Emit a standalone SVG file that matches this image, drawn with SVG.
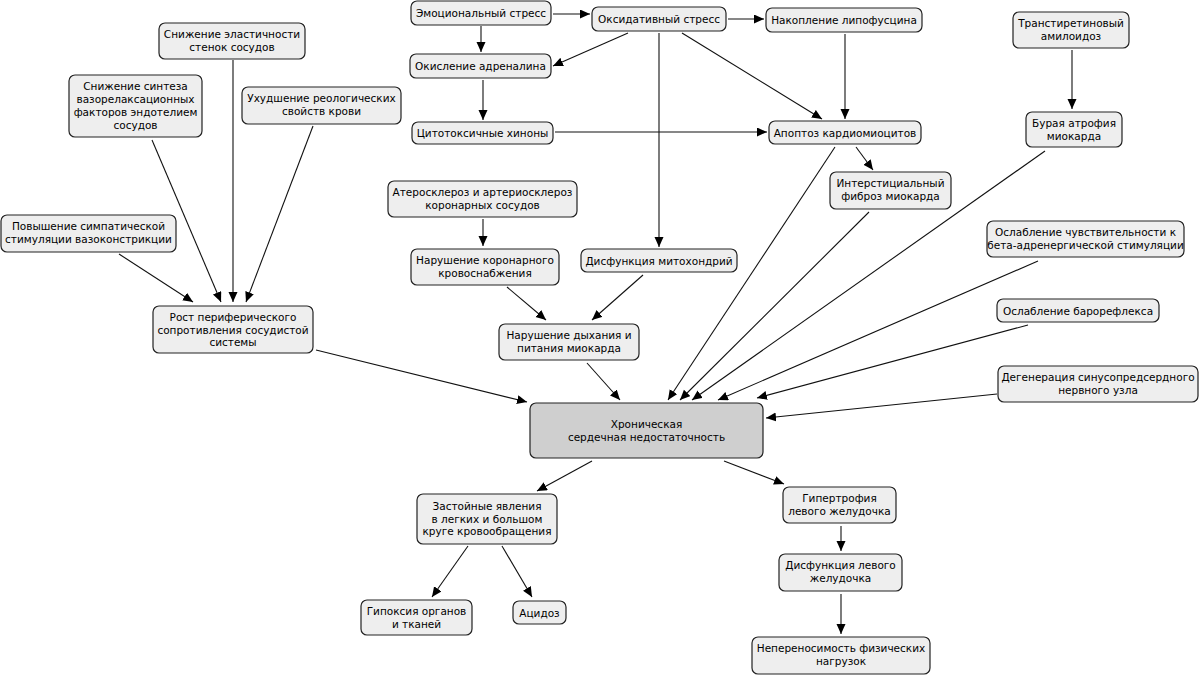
<svg xmlns="http://www.w3.org/2000/svg" width="1200" height="675" viewBox="0 0 1200 675">
<defs>
<marker id="ah" markerUnits="userSpaceOnUse" markerWidth="11" markerHeight="10" refX="10" refY="4.5" orient="auto">
<path d="M0,0 L10,4.5 L0,9 z" fill="#000"/>
</marker>
<style>
.n rect{fill:#eeeeee;stroke:#222;stroke-width:1.2}
#hsn rect{fill:#cfcfcf}
.n text{font-family:"DejaVu Sans",Verdana,sans-serif;font-size:10.5px;fill:#000;text-anchor:middle}
#edges line{stroke:#111;stroke-width:1.1;marker-end:url(#ah)}
</style>
</defs>
<rect width="1200" height="675" fill="#fff"/>
<g id="edges">
<line x1="553" y1="14" x2="590" y2="14"/>
<line x1="481" y1="26" x2="481" y2="52"/>
<line x1="628" y1="33" x2="553" y2="66"/>
<line x1="728" y1="19" x2="764" y2="19"/>
<line x1="682" y1="33" x2="822" y2="119"/>
<line x1="659" y1="33" x2="659" y2="247"/>
<line x1="845" y1="34" x2="845" y2="119"/>
<line x1="483" y1="80" x2="483" y2="120"/>
<line x1="555" y1="132" x2="767" y2="132"/>
<line x1="856" y1="147" x2="873" y2="170"/>
<line x1="1072" y1="50" x2="1072" y2="109"/>
<line x1="835" y1="147" x2="668" y2="400"/>
<line x1="869" y1="212" x2="680" y2="400"/>
<line x1="1045" y1="151" x2="692" y2="400"/>
<line x1="1038" y1="261" x2="718" y2="400"/>
<line x1="1028" y1="325" x2="757" y2="398"/>
<line x1="997" y1="394" x2="766" y2="418"/>
<line x1="587" y1="363" x2="620" y2="400"/>
<line x1="316" y1="350" x2="527" y2="402"/>
<line x1="592" y1="461" x2="537" y2="491"/>
<line x1="724" y1="461" x2="784" y2="484"/>
<line x1="468" y1="546" x2="432" y2="597"/>
<line x1="502" y1="546" x2="532" y2="597"/>
<line x1="841" y1="526" x2="841" y2="551"/>
<line x1="841" y1="594" x2="841" y2="634"/>
<line x1="483" y1="219" x2="483" y2="246"/>
<line x1="507" y1="287" x2="546" y2="320"/>
<line x1="643" y1="275" x2="592" y2="320"/>
<line x1="119" y1="254" x2="193" y2="302"/>
<line x1="152" y1="140" x2="221" y2="302"/>
<line x1="233" y1="60" x2="233" y2="302"/>
<line x1="313" y1="126" x2="246" y2="302"/>
</g>
<g id="n1" class="n"><rect x="159" y="23" width="146" height="36" rx="6"/><text x="232" y="38">Снижение эластичности</text><text x="232" y="51">стенок сосудов</text></g>
<g id="n2" class="n"><rect x="69" y="75" width="133" height="62" rx="6"/><text x="135.5" y="90">Снижение синтеза</text><text x="135.5" y="103">вазорелаксационных</text><text x="135.5" y="116">факторов эндотелием</text><text x="135.5" y="129">сосудов</text></g>
<g id="n3" class="n"><rect x="242" y="87" width="159" height="37" rx="6"/><text x="321.5" y="102">Ухудшение реологических</text><text x="321.5" y="115">свойств крови</text></g>
<g id="n4" class="n"><rect x="1" y="215" width="175" height="37" rx="6"/><text x="88.5" y="230">Повышение симпатической</text><text x="88.5" y="243">стимуляции вазоконстрикции</text></g>
<g id="n5" class="n"><rect x="153" y="306" width="160" height="47" rx="6"/><text x="233" y="321">Рост периферического</text><text x="233" y="333.5">сопротивления сосудистой</text><text x="233" y="346">системы</text></g>
<g id="n6" class="n"><rect x="411" y="1" width="140" height="24" rx="6"/><text x="481" y="17">Эмоциональный стресс</text></g>
<g id="n7" class="n"><rect x="592" y="7" width="134" height="24" rx="6"/><text x="659" y="23">Оксидативный стресс</text></g>
<g id="n8" class="n"><rect x="766" y="8" width="156" height="24" rx="6"/><text x="844" y="24">Накопление липофусцина</text></g>
<g id="n9" class="n"><rect x="410" y="54" width="141" height="24" rx="6"/><text x="480.5" y="70">Окисление адреналина</text></g>
<g id="n10" class="n"><rect x="412" y="122" width="141" height="22" rx="6"/><text x="482.5" y="137">Цитотоксичные хиноны</text></g>
<g id="n11" class="n"><rect x="769" y="121" width="152" height="23" rx="6"/><text x="845" y="137">Апоптоз кардиомиоцитов</text></g>
<g id="n12" class="n"><rect x="1013" y="12" width="116" height="36" rx="6"/><text x="1071" y="27">Транстиретиновый</text><text x="1071" y="40">амилоидоз</text></g>
<g id="n13" class="n"><rect x="1026" y="112" width="96" height="35" rx="6"/><text x="1074" y="127">Бурая атрофия</text><text x="1074" y="140">миокарда</text></g>
<g id="n14" class="n"><rect x="830" y="172" width="121" height="37" rx="6"/><text x="890.5" y="187">Интерстициальный</text><text x="890.5" y="200">фиброз миокарда</text></g>
<g id="n15" class="n"><rect x="388" y="181" width="189" height="36" rx="6"/><text x="482.5" y="196">Атеросклероз и артериосклероз</text><text x="482.5" y="209">коронарных сосудов</text></g>
<g id="n16" class="n"><rect x="411" y="249" width="148" height="36" rx="6"/><text x="485" y="264">Нарушение коронарного</text><text x="485" y="277">кровоснабжения</text></g>
<g id="n17" class="n"><rect x="581" y="249" width="156" height="23" rx="6"/><text x="659" y="265">Дисфункция митохондрий</text></g>
<g id="n18" class="n"><rect x="499" y="324" width="140" height="36" rx="6"/><text x="569" y="339">Нарушение дыхания и</text><text x="569" y="352">питания миокарда</text></g>
<g id="n19" class="n"><rect x="987" y="221" width="197" height="36" rx="6"/><text x="1085.5" y="236">Ослабление чувствительности к</text><text x="1085.5" y="249">бета-адренергической стимуляции</text></g>
<g id="n20" class="n"><rect x="997" y="299" width="162" height="23" rx="6"/><text x="1078" y="315">Ослабление барорефлекса</text></g>
<g id="n21" class="n"><rect x="998" y="366" width="200" height="36" rx="6"/><text x="1098" y="381">Дегенерация синусопредсердного</text><text x="1098" y="394">нервного узла</text></g>
<g id="hsn" class="n"><rect x="530" y="403" width="233" height="55" rx="6"/><text x="646.5" y="428">Хроническая</text><text x="646.5" y="441">сердечная недостаточность</text></g>
<g id="n23" class="n"><rect x="417" y="494" width="140" height="50" rx="6"/><text x="487" y="510">Застойные явления</text><text x="487" y="522.5">в легких и большом</text><text x="487" y="535">круге кровообращения</text></g>
<g id="n24" class="n"><rect x="361" y="600" width="111" height="35" rx="6"/><text x="416.5" y="615">Гипоксия органов</text><text x="416.5" y="628">и тканей</text></g>
<g id="n25" class="n"><rect x="513" y="601" width="53" height="23" rx="6"/><text x="539.5" y="617">Ацидоз</text></g>
<g id="n26" class="n"><rect x="783" y="487" width="113" height="36" rx="6"/><text x="839.5" y="502">Гипертрофия</text><text x="839.5" y="515">левого желудочка</text></g>
<g id="n27" class="n"><rect x="779" y="554" width="123" height="37" rx="6"/><text x="840.5" y="569">Дисфункция левого</text><text x="840.5" y="582">желудочка</text></g>
<g id="n28" class="n"><rect x="752" y="637" width="178" height="37" rx="6"/><text x="841" y="652">Непереносимость физических</text><text x="841" y="665">нагрузок</text></g>
</svg>
